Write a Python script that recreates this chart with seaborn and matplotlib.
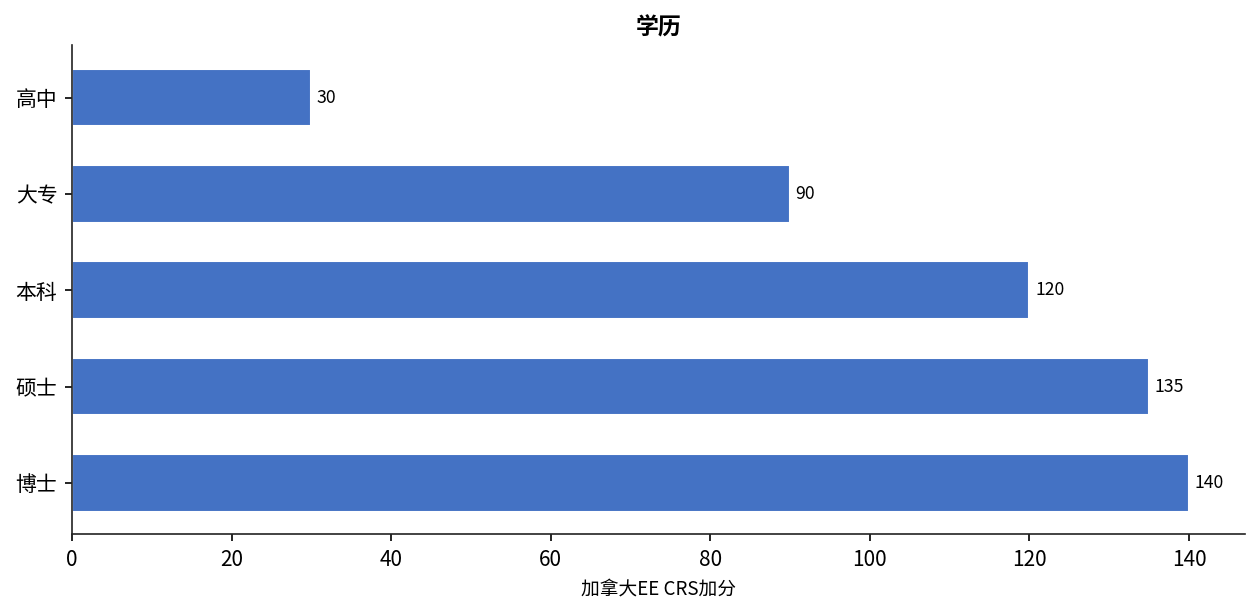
import matplotlib; matplotlib.use('Agg')
import pandas as pd
import seaborn as sns
import matplotlib.pyplot as plt

# 学历 vs CRS points
categories = ['高中', '大专', '本科', '硕士', '博士']
points = [30, 90, 120, 135, 140]

sns.set_style('white')
plt.rcParams['font.family'] = ['Noto Sans CJK SC', 'DejaVu Sans']
plt.rcParams['text.color'] = 'black'
plt.rcParams['axes.labelcolor'] = 'black'
plt.rcParams['xtick.color'] = 'black'
plt.rcParams['ytick.color'] = 'black'

df = pd.DataFrame({'学历': categories, '分数': points})

fig = plt.figure(figsize=(8.4, 4.1), dpi=150)
ax = fig.add_axes([0.0571, 0.1317, 0.9309, 0.7951])
sns.barplot(data=df, x='分数', y='学历', order=categories, color='#4472C4',
            saturation=1, width=0.6, ax=ax)

for i, v in enumerate(points):
    ax.text(v + 0.7, i, str(v), va='center', ha='left', fontsize=8.5)

ax.set_title('学历', fontsize=11, fontweight='bold', pad=5)
ax.set_xlabel('加拿大EE CRS加分', fontsize=9)
ax.set_ylabel('')
ax.set_xlim(0, 147)
ax.set_ylim(4.53, -0.545)
ax.tick_params(axis='both', labelsize=10, length=3.5, width=0.8,
               bottom=True, left=True)
for s in ['top', 'right']:
    ax.spines[s].set_visible(False)
for s in ['left', 'bottom']:
    ax.spines[s].set_color('#222222')
    ax.spines[s].set_linewidth(0.8)

fig.savefig('out.png', dpi=150)
